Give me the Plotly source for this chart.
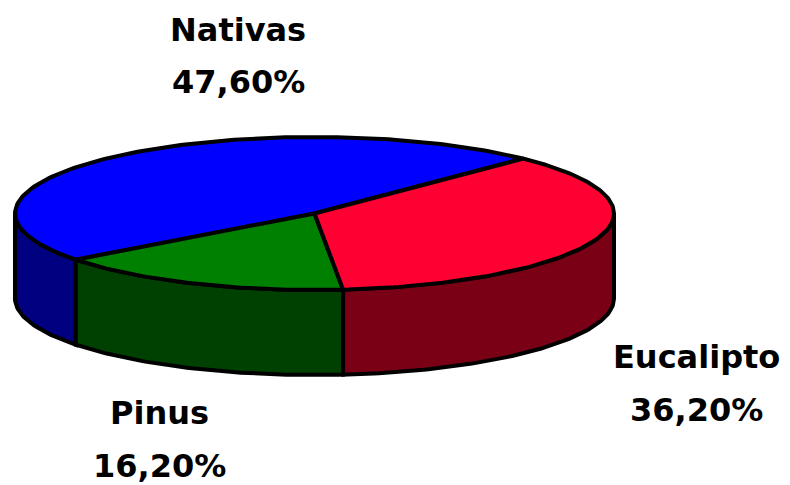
import numpy as np
import plotly.graph_objects as go

# ---- data ----
categories = ["Nativas", "Pinus", "Eucalipto"]          # counter-clockwise order
values = [47.6, 16.2, 36.2]                              # percent
top_colors = ["#0000FF", "#008000", "#FF0033"]
side_colors = ["#000080", "#004000", "#7A0016"]
label_pos = {"Nativas": (238, 30, 82), "Pinus": (159, 413, 466), "Eucalipto": (696, 357, 410)}

# ---- geometry ----
W, H = 790, 485
cx, cy, rx, ry, depth = 314.5, 213.5, 299.5, 76.5, 85
start_deg = 45.8

def pt(t_deg, dz=0.0):
    t = np.radians(t_deg)
    return cx + rx * np.cos(t), cy - ry * np.sin(t) + dz

def arc(a, b, dz=0.0):
    n = max(int(abs(b - a)) + 2, 3)
    ts = np.linspace(a, b, n)
    xs, ys = pt(ts, dz)
    return list(xs), list(ys)

fig = go.Figure()

total = sum(values)
bounds = []
a = start_deg
for v in values:
    b = a + v / total * 360.0
    bounds.append((a, b))
    a = b

# sides (front half: 180..360 mod 360)
for (a, b), col in zip(bounds, side_colors):
    for k in range(-1, 3):
        lo, hi = 180 + 360 * k, 360 + 360 * k
        s, e = max(a, lo), min(b, hi)
        if e > s:
            tx, ty = arc(s, e)
            bx, by = arc(e, s, depth)
            xs = tx + bx + [tx[0]]
            ys = ty + by + [ty[0]]
            fig.add_trace(go.Scatter(x=xs, y=ys, mode="lines", fill="toself",
                                     fillcolor=col, line=dict(color="black", width=4),
                                     hoverinfo="skip", showlegend=False))

# tops
for (a, b), col in zip(bounds, top_colors):
    tx, ty = arc(a, b)
    xs = [cx] + tx + [cx]
    ys = [cy] + ty + [cy]
    fig.add_trace(go.Scatter(x=xs, y=ys, mode="lines", fill="toself",
                             fillcolor=col, line=dict(color="black", width=4),
                             hoverinfo="skip", showlegend=False))

font = dict(family="DejaVu Sans", size=32, color="black")
for name, v in zip(categories, values):
    x, y1, y2 = label_pos[name]
    pct = f"{v:.2f}%".replace(".", ",")
    fig.add_annotation(x=x, y=y1, text=f"<b>{name}</b>", showarrow=False,
                       xanchor="center", yanchor="middle", font=font)
    fig.add_annotation(x=x, y=y2, text=f"<b>{pct}</b>", showarrow=False,
                       xanchor="center", yanchor="middle", font=font)

fig.update_layout(width=W, height=H, margin=dict(l=0, r=0, t=0, b=0),
                  paper_bgcolor="white", plot_bgcolor="white",
                  xaxis=dict(range=[0, W], visible=False, fixedrange=True),
                  yaxis=dict(range=[H, 0], visible=False, fixedrange=True))
fig.write_html("out.html", config={"displayModeBar": False},
               post_script="document.body.style.margin='0';document.body.style.overflow='hidden';")
